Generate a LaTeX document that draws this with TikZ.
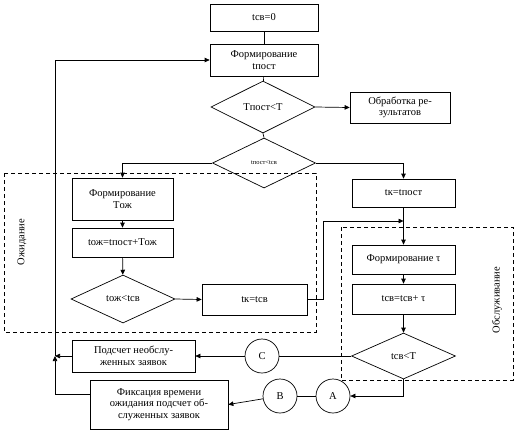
\documentclass[tikz,border=0pt]{standalone}
\usepackage{fontspec}
\setmainfont{Liberation Serif}
\usetikzlibrary{arrows.meta,shapes.geometric}
\begin{document}
\begin{tikzpicture}[x=1pt,y=-1pt,line width=0.7pt,
  every node/.style={font=\fontsize{10.5}{11.5}\selectfont},
  box/.style={draw,align=center,inner sep=0pt},
  dia/.style={draw,diamond,inner sep=0pt},
  circ/.style={draw,circle,minimum size=34pt,inner sep=0pt},
  arr/.style={-{Triangle[length=5pt,width=4.5pt]}},
  zone/.style={draw,dash pattern=on 4pt off 3pt,line width=0.6pt}]
\useasboundingbox (0,0) rectangle (521,432);
% zones
\draw[zone] (4,173) rectangle (316,332);
\draw[zone] (341,227) rectangle (513,380);
\node[rotate=90] (lz1) at (22,242) {Ожидание};
\node[rotate=90] (lz2) at (497,300) {Обслуживание};
% nodes
\node[box,minimum width=108pt,minimum height=27pt] (b0) at (264,17.5) {tсв=0};
\node[box,minimum width=108pt,minimum height=32pt] (b1) at (264,60) {Формирование\\tпост};
\node[dia,minimum width=104pt,minimum height=52pt] (d1) at (263,107) {Tпост<T};
\node[box,minimum width=100pt,minimum height=31pt] (r1) at (400,107.5) {Обработка ре-\\зультатов};
\node[dia,minimum width=103pt,minimum height=50pt,font=\fontsize{6.5}{7}\selectfont] (d2) at (264,163) {tпост<tсв};
\node[box,minimum width=103pt,minimum height=28pt] (r2) at (403.5,193) {tк=tпост};
\node[box,minimum width=101pt,minimum height=42pt] (r3) at (122.5,199) {Формирование\\Tож};
\node[box,minimum width=101pt,minimum height=29pt] (r4) at (122.5,242.5) {tож=tпост+Tож};
\node[dia,minimum width=104pt,minimum height=48pt] (d3) at (123,299) {tож<tсв};
\node[box,minimum width=105pt,minimum height=31pt] (r5) at (254.5,299.5) {tк=tсв};
\node[box,minimum width=103pt,minimum height=29pt] (r6) at (403.5,259.5) {Формирование τ};
\node[box,minimum width=103pt,minimum height=30pt] (r7) at (403.5,299) {tсв=tсв+ τ};
\node[dia,minimum width=104pt,minimum height=46pt] (d4) at (403.5,356) {tсв<T};
\node[box,minimum width=123pt,minimum height=32pt] (r8) at (133.5,356) {Подсчет необслу-\\женных заявок};
\node[box,minimum width=138pt,minimum height=49pt] (r9) at (159,404.5) {Фиксация времени\\ожидания подсчет об-\\служенных заявок};
\node[circ] (cA) at (333,396) {A};
\node[circ] (cB) at (280,396) {B};
\node[circ] (cC) at (262,356) {C};
\coordinate (j) at (403.5,221);
\coordinate (jl) at (55,356);
% connectors
\draw (b0) -- (b1);
\draw (b1) -- (d1);
\draw[arr] (d1.east) -- (r1.west);
\draw (d1.south) -- (d2.north);
\draw[arr] (d2.east) -| (r2.north);
\draw[arr] (d2.west) -| (r3.north);
\draw[arr] (r3) -- (r4);
\draw[arr] (r4) -- (d3);
\draw[arr] (d3.east) -- (r5.west);
\draw[arr] (r5.east) -- ++(16,0) |- (j);
\draw[arr] (r2) -- (r6);
\draw[arr] (r6) -- (r7);
\draw[arr] (r7) -- (d4);
\draw[arr] (d4.south) |- (cA.east);
\draw (cA) -- (cB);
\draw[arr] (cB) -- (r9.east);
\draw (d4.west) -- (cC.east);
\draw[arr] (cC) -- (r8.east);
\draw[arr] (r8.west) -- (jl);
\draw[arr] ([yshift=10.5pt]r9.west) -| (jl);
\draw[arr] (jl) |- (b1.west);
\end{tikzpicture}
\end{document}
